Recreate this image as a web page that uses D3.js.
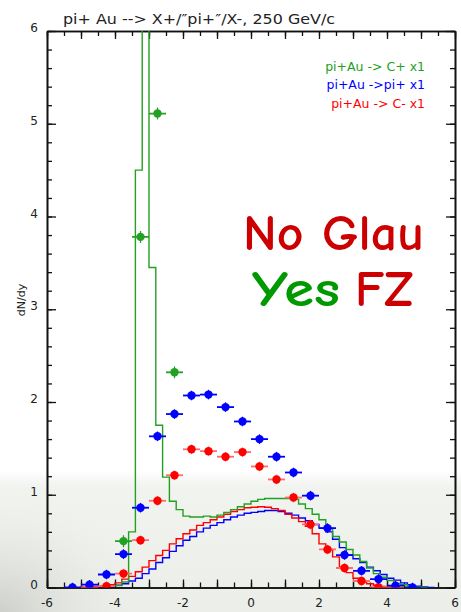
<!DOCTYPE html>
<html><head><meta charset="utf-8">
<script src="https://cdn.jsdelivr.net/npm/d3@7"></script>
<style>body{margin:0;background:#fff}svg{display:block}</style>
</head><body>
<script>
// ---------- data ----------
const binWidth = 0.2;
const greenHistStart = -4.0;
const greenHist = [0.02,0.06,0.60,4.50,9.0,3.45,1.75,1.19,0.93,0.84,0.77,0.76,0.76,0.77,0.76,0.78,0.81,0.84,0.87,0.90,0.93,0.95,0.96,0.96,0.96,0.96,0.95,0.90,0.85,0.79,0.73,0.64,0.55,0.49,0.41,0.35,0.28,0.21,0.15,0.11,0.075,0.045,0.03,0.015,0.008,0];
const redHistStart = -5.0;
const redHist = [0,0.005,0.01,0.02,0.03,0.05,0.09,0.12,0.17,0.22,0.29,0.345,0.40,0.47,0.525,0.58,0.62,0.67,0.70,0.73,0.76,0.79,0.82,0.84,0.86,0.865,0.87,0.865,0.85,0.83,0.79,0.75,0.71,0.66,0.58,0.47,0.41,0.33,0.22,0.16,0.10,0.06,0.04,0.025,0.012,0.005,0];
const blueHistStart = -5.0;
const blueHist = [0,0.003,0.005,0.01,0.015,0.025,0.04,0.07,0.10,0.15,0.20,0.27,0.32,0.39,0.45,0.51,0.55,0.60,0.64,0.67,0.70,0.73,0.76,0.78,0.80,0.81,0.82,0.83,0.83,0.82,0.80,0.78,0.75,0.72,0.68,0.64,0.60,0.52,0.43,0.35,0.31,0.27,0.22,0.18,0.14,0.10,0.08,0.05,0.03,0.015,0.005,0];

const greenPtsX = [-3.75,-3.25,-2.75,-2.25];
const greenPtsY = [0.50,3.78,5.11,2.32];
const bluePtsX = [-5.25,-4.75,-4.25,-3.75,-3.25,-2.75,-2.25,-1.75,-1.25,-0.75,-0.25,0.25,0.75,1.25,1.75,2.25,2.75,3.25,3.75,4.25,4.75];
const bluePtsY = [0.0,0.03,0.14,0.36,0.86,1.63,1.87,2.07,2.08,1.945,1.79,1.60,1.41,1.24,0.99,0.64,0.35,0.18,0.09,0.02,0.0];
const redPtsX = [-4.75,-4.25,-3.75,-3.25,-2.75,-2.25,-1.75,-1.25,-0.75,-0.25,0.25,0.75,1.25,1.75,2.25,2.75,3.25,3.75,4.25];
const redPtsY = [0.0,0.015,0.15,0.51,0.935,1.21,1.49,1.47,1.41,1.46,1.305,1.165,0.97,0.68,0.41,0.21,0.07,0.003,0.0];
const xErr = 0.25;

const xTickLabels = [-6,-4,-2,0,2,4,6];
const yTickLabels = [0,1,2,3,4,5,6];
const title = 'pi+ Au --> X+/\u2033pi+\u2033/X-, 250 GeV/c';
const yLabel = 'dN/dy';
const legendLabels = ['pi+Au -> C+ x1','pi+Au ->pi+ x1','pi+Au -> C- x1'];
const bigText1 = 'No Glau';
const bigText2a = 'Yes';
const bigText2b = 'FZ';

// ---------- layout ----------
const W = 461, H = 612;
const L = 47, R = 455, T = 31, B = 587.5;
const GREEN = '#22a022', BLUE = '#0000ff', RED = '#ff0000';

const svg = d3.select('body').append('svg').attr('width', W).attr('height', H)
  .style('font-family', 'DejaVu Sans, sans-serif');

const defs = svg.append('defs');
const lg = defs.append('linearGradient').attr('id','bg').attr('x1',0).attr('y1',0).attr('x2',0).attr('y2',1);
lg.append('stop').attr('offset','0%').attr('stop-color','#ffffff');
lg.append('stop').attr('offset','12%').attr('stop-color','#f1f3ef');
lg.append('stop').attr('offset','100%').attr('stop-color','#eceee9');
const rg = defs.append('radialGradient').attr('id','corner').attr('cx',0).attr('cy',1).attr('r',0.9);
rg.append('stop').attr('offset','0%').attr('stop-color','#c9ccc8').attr('stop-opacity',0.9);
rg.append('stop').attr('offset','100%').attr('stop-color','#e9ebe7').attr('stop-opacity',0);
defs.append('clipPath').attr('id','clip').append('rect')
  .attr('x', L).attr('y', T).attr('width', R - L).attr('height', B - T);

svg.append('rect').attr('x',0).attr('y',0).attr('width',W).attr('height',H).attr('fill','#fff');
svg.append('rect').attr('x',0).attr('y',470).attr('width',W).attr('height',H-470).attr('fill','url(#bg)');
svg.append('rect').attr('x',0).attr('y',480).attr('width',160).attr('height',H-480).attr('fill','url(#corner)');

const x = d3.scaleLinear().domain([-6, 6]).range([L, R]);
const y = d3.scaleLinear().domain([0, 6]).range([B, T]);

// ---------- axes ----------
const xMajor = d3.range(-6, 6.001, 1), xMinor = d3.range(-6, 6.001, 0.5);
const yMajor = d3.range(0, 6.001, 1), yMinor = d3.range(0, 6.001, 0.2);

const gAx = svg.append('g');
const axBottom = d3.axisBottom(x).tickValues(xMinor).tickSizeInner(-5).tickSizeOuter(0).tickFormat('');
const axBottomMaj = d3.axisBottom(x).tickValues(xMajor).tickSizeInner(-8).tickSizeOuter(0).tickFormat('');
const axTop = d3.axisTop(x).tickValues(xMinor).tickSizeInner(-5).tickSizeOuter(0).tickFormat('');
const axTopMaj = d3.axisTop(x).tickValues(xMajor).tickSizeInner(-8).tickSizeOuter(0).tickFormat('');
const axLeft = d3.axisLeft(y).tickValues(yMinor).tickSizeInner(-5).tickSizeOuter(0).tickFormat('');
const axLeftMaj = d3.axisLeft(y).tickValues(yMajor).tickSizeInner(-9).tickSizeOuter(0).tickFormat('');
const axRight = d3.axisRight(y).tickValues(yMinor).tickSizeInner(-5).tickSizeOuter(0).tickFormat('');
const axRightMaj = d3.axisRight(y).tickValues(yMajor).tickSizeInner(-9).tickSizeOuter(0).tickFormat('');
[[axBottom,`translate(0,${B})`],[axBottomMaj,`translate(0,${B})`],[axTop,`translate(0,${T})`],[axTopMaj,`translate(0,${T})`],
 [axLeft,`translate(${L},0)`],[axLeftMaj,`translate(${L},0)`],[axRight,`translate(${R},0)`],[axRightMaj,`translate(${R},0)`]]
 .forEach(([a,t]) => {
   const g = gAx.append('g').attr('transform', t).call(a);
   g.select('.domain').attr('stroke','#111').attr('stroke-width',1.6);
   g.selectAll('.tick line').attr('stroke','#111').attr('stroke-width',1.3);
 });

// tick labels
svg.append('g').selectAll('text').data(xTickLabels).join('text')
  .attr('x', d => x(d)).attr('y', 607).attr('text-anchor','middle')
  .attr('font-size', 12).attr('fill','#222').text(d => d);
svg.append('g').selectAll('text').data(yTickLabels).join('text')
  .attr('x', 38).attr('y', d => y(d) + 1).attr('text-anchor','end')
  .attr('font-size', 12).attr('fill','#222').text(d => d);

svg.append('text').attr('transform','translate(25,300) rotate(-90)').attr('text-anchor','middle')
  .attr('font-size', 11).attr('fill','#222').text(yLabel);
svg.append('text').attr('x', 63).attr('y', 24).attr('font-size', 13.5).attr('fill','#222')
  .attr('textLength', 272).attr('lengthAdjust','spacingAndGlyphs').text(title);

// ---------- histograms ----------
const plot = svg.append('g').attr('clip-path','url(#clip)');
function histPts(start, vals) {
  const pts = vals.map((v, i) => [start + i * binWidth, v]);
  pts.push([start + vals.length * binWidth, vals[vals.length - 1]]);
  return pts;
}
const line = d3.line().x(d => x(d[0])).y(d => y(d[1])).curve(d3.curveStepAfter);
[[blueHistStart, blueHist, BLUE], [redHistStart, redHist, RED], [greenHistStart, greenHist, GREEN]].forEach(([s, v, c]) => {
  plot.append('path').datum(histPts(s, v)).attr('d', line)
    .attr('fill','none').attr('stroke', c).attr('stroke-width', 1.4);
});

// ---------- points ----------
function drawPts(xs, ys, col, barCol, vLen) {
  const g = plot.append('g');
  const data = xs.map((d, i) => [d, ys[i]]);
  g.selectAll('line.h').data(data).join('line')
    .attr('x1', d => x(d[0] - xErr)).attr('x2', d => x(d[0] + xErr))
    .attr('y1', d => y(d[1])).attr('y2', d => y(d[1]))
    .attr('stroke', barCol).attr('stroke-width', 1.8);
  g.selectAll('line.v').data(data).join('line')
    .attr('x1', d => x(d[0])).attr('x2', d => x(d[0]))
    .attr('y1', d => y(d[1]) - vLen).attr('y2', d => y(d[1]) + vLen)
    .attr('stroke', barCol).attr('stroke-width', 1.2);
  g.selectAll('circle').data(data).join('circle')
    .attr('cx', d => x(d[0])).attr('cy', d => y(d[1])).attr('r', 4.2)
    .attr('fill', col);
}
drawPts(redPtsX, redPtsY, RED, '#ff6a6a', 4.8);
drawPts(bluePtsX, bluePtsY, BLUE, BLUE, 4.8);
drawPts(greenPtsX, greenPtsY, GREEN, GREEN, 6);

// ---------- legend ----------
const legCols = [GREEN, BLUE, RED];
svg.append('g').selectAll('text').data(legendLabels).join('text')
  .attr('x', 425).attr('y', (d, i) => 71 + i * 18.3).attr('text-anchor','end')
  .attr('font-size', 12.5).attr('fill', (d, i) => legCols[i]).text(d => d);

// ---------- big annotation ----------
const bigFont = 'Comic Sans MS, Comic Neue, DejaVu Sans, sans-serif';
svg.append('text').attr('x', 243).attr('y', 250).attr('font-size', 50).attr('font-weight','bold')
  .attr('font-family', bigFont).attr('fill','#cc0000')
  .attr('textLength', 181).attr('lengthAdjust','spacingAndGlyphs').text(bigText1);
svg.append('text').attr('x', 252).attr('y', 306).attr('font-size', 50).attr('font-weight','bold')
  .attr('font-family', bigFont).attr('fill','#009900')
  .attr('textLength', 88).attr('lengthAdjust','spacingAndGlyphs').text(bigText2a);
svg.append('text').attr('x', 355).attr('y', 306).attr('font-size', 50).attr('font-weight','bold')
  .attr('font-family', bigFont).attr('fill','#cc0000')
  .attr('textLength', 58).attr('lengthAdjust','spacingAndGlyphs').text(bigText2b);
</script>
</body></html>
